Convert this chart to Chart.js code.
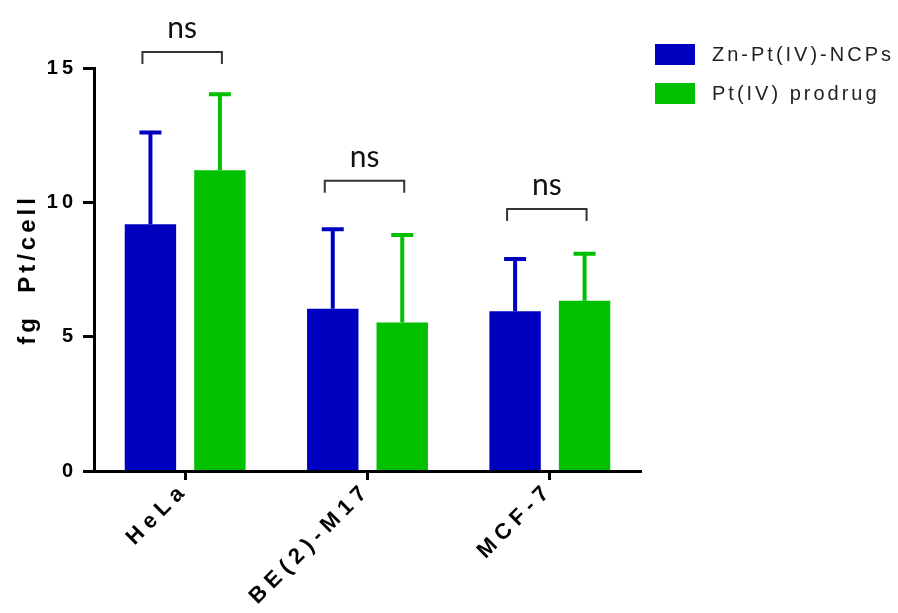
<!DOCTYPE html>
<html>
<head>
<meta charset="utf-8">
<script src="https://cdn.jsdelivr.net/npm/chart.js@4.4.1/dist/chart.umd.min.js"></script>
<style>
  html, body { margin: 0; padding: 0; background: #fff; }
  #contenedor { width: 898px; height: 613px; }
</style>
</head>
<body>
<div id="contenedor"><canvas id="graficoPt"></canvas></div>
<script>
// datos
var lineas = ['HeLa', 'BE(2)-M17', 'MCF-7'];
var serieNombres = ['Zn-Pt(IV)-NCPs', 'Pt(IV) prodrug'];
var valoresNCP = [9.18, 6.04, 5.95];
var erroresNCP = [3.42, 2.96, 1.94];
var valoresPro = [11.19, 5.53, 6.34];
var erroresPro = [2.83, 3.25, 1.75];
var ticksY = [0, 5, 10, 15];
var nivelesNs = [15.6, 10.8, 9.75];
var textosNs = ['ns', 'ns', 'ns'];

var fuente = 'Arial, "Liberation Sans", sans-serif';

// espaciado entre letras como en el original
// (capas z<=0: eje y y su titulo / capas z>0: etiquetas del eje x)
var espaciado = {
  id: 'espaciado',
  beforeLayout: function(chart){ chart.ctx.letterSpacing = '4px'; },
  beforeDraw: function(chart){ chart.ctx.letterSpacing = '4px'; },
  afterDatasetsDraw: function(chart){ chart.ctx.letterSpacing = '6px'; }
};

var barrasError = {
  id: 'barrasError',
  afterDatasetsDraw: function(chart){
    var ctx = chart.ctx;
    var escalaY = chart.scales.y;
    chart.data.datasets.forEach(function(ds, i){
      var meta = chart.getDatasetMeta(i);
      meta.data.forEach(function(barra, j){
        var arriba = escalaY.getPixelForValue(ds.data[j] + ds.errores[j]);
        ctx.save();
        ctx.strokeStyle = ds.backgroundColor;
        ctx.lineWidth = 4;
        ctx.beginPath();
        ctx.moveTo(barra.x, barra.y);
        ctx.lineTo(barra.x, arriba);
        ctx.moveTo(barra.x - 11, arriba);
        ctx.lineTo(barra.x + 11, arriba);
        ctx.stroke();
        ctx.restore();
      });
    });
  }
};

var marcasNs = {
  id: 'marcasNs',
  afterDraw: function(chart){
    var ctx = chart.ctx;
    var escalaY = chart.scales.y;
    var m0 = chart.getDatasetMeta(0), m1 = chart.getDatasetMeta(1);
    ctx.save();
    ctx.letterSpacing = '0px';
    ctx.strokeStyle = '#333';
    ctx.lineWidth = 2;
    ctx.fillStyle = '#111';
    ctx.font = '30px Lato, "Open Sans", sans-serif';
    ctx.textAlign = 'center';
    ctx.textBaseline = 'alphabetic';
    nivelesNs.forEach(function(nivel, j){
      var x1 = m0.data[j].x - 8;
      var x2 = m1.data[j].x + 2;
      var yy = escalaY.getPixelForValue(nivel);
      ctx.beginPath();
      ctx.moveTo(x1, yy + 12);
      ctx.lineTo(x1, yy);
      ctx.lineTo(x2, yy);
      ctx.lineTo(x2, yy + 12);
      ctx.stroke();
      ctx.fillText(textosNs[j], (x1 + x2) / 2, yy - 14);
    });
    ctx.restore();
  }
};

// leyenda a la derecha, arriba
var leyenda = {
  id: 'leyenda',
  afterDraw: function(chart){
    var ctx = chart.ctx;
    var x = chart.chartArea.right + 14;
    ctx.save();
    ctx.letterSpacing = '3px';
    ctx.font = '20px ' + fuente;
    ctx.textAlign = 'left';
    ctx.textBaseline = 'middle';
    chart.data.datasets.forEach(function(ds, i){
      var y = 44 + i * 39;
      ctx.fillStyle = ds.backgroundColor;
      ctx.fillRect(x, y, 40, 21);
      ctx.fillStyle = '#222';
      ctx.fillText(ds.label, x + 57, y + 11);
    });
    ctx.restore();
  }
};

var contexto = document.getElementById('graficoPt').getContext('2d');
var myChart = new Chart(contexto, {
  type: 'bar',
  data: {
    labels: lineas,
    datasets: [{
      label: serieNombres[0],
      data: valoresNCP,
      errores: erroresNCP,
      backgroundColor: '#0000C0',
      borderWidth: 0,
      categoryPercentage: 0.762,
      barPercentage: 0.74
    }, {
      label: serieNombres[1],
      data: valoresPro,
      errores: erroresPro,
      backgroundColor: '#00C000',
      borderWidth: 0,
      categoryPercentage: 0.762,
      barPercentage: 0.74
    }]
  },
  options: {
    responsive: true,
    maintainAspectRatio: false,
    animation: false,
    layout: { padding: { top: 26, right: 257, bottom: 0, left: 0 } },
    plugins: {
      title: { display: true, text: '', font: { size: 10 }, padding: { top: 0, bottom: 30 } },
      legend: { display: false },
      tooltip: { enabled: false }
    },
    scales: {
      x: {
        grid: { offset: false, drawOnChartArea: false, tickLength: 9, tickWidth: 3, tickColor: '#000' },
        border: { color: '#000', width: 3, z: 1 },
        ticks: {
          z: 1,
          minRotation: 45,
          maxRotation: 45,
          padding: -3,
          color: '#000',
          font: { family: fuente, size: 22, weight: 'bold' }
        },
        afterFit: function(escala){ escala.height = 142; }
      },
      y: {
        min: 0,
        max: 15,
        afterBuildTicks: function(escala){
          escala.ticks = ticksY.map(function(v){ return { value: v }; });
        },
        grid: { drawOnChartArea: false, tickLength: 11, tickWidth: 3, tickColor: '#000' },
        border: { color: '#000', width: 3, z: 1 },
        ticks: {
          padding: 6,
          color: '#000',
          font: { family: fuente, size: 20, weight: 'bold' }
        },
        title: {
          display: true,
          text: 'fg  Pt/cell',
          color: '#000',
          font: { family: fuente, size: 24, weight: 'bold' },
          padding: { top: 14, bottom: 0 }
        },
        afterFit: function(escala){ escala.width = 94; }
      }
    }
  },
  plugins: [espaciado, barrasError, marcasNs, leyenda]
});
</script>
</body>
</html>
